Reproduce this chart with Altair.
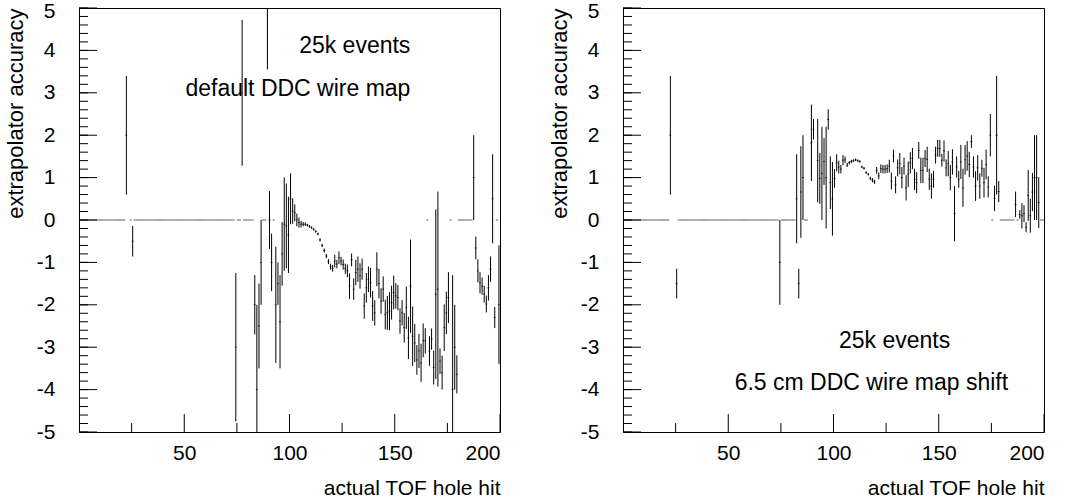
import altair as alt
import pandas as pd

FONT = "Liberation Sans"
FS = 21
NOTE_FS = 23

# ---------------- data (bin centre, value, error) ----------------
left_x = [22.5, 25.5, 74.5, 77.5, 83.5, 84.5, 85.5, 86.5, 89.5, 90.5, 91.5, 93.5, 94.5, 95.5,
          96.5, 97.5, 98.5, 99.5, 100.5, 101.5, 102.5, 103.5, 104.5, 105.5, 106.5, 107.5, 108.5,
          109.5, 110.5, 111.5, 112.5, 113.5, 114.5, 115.5, 116.5, 117.5, 118.5, 119.5, 120.5,
          121.5, 122.5, 123.5, 124.5, 125.5, 126.5, 127.5, 128.5, 129.5, 130.5, 131.5, 132.5,
          133.5, 134.5, 135.5, 136.5, 137.5, 138.5, 139.5, 140.5, 141.5, 142.5, 143.5, 144.5,
          145.5, 146.5, 147.5, 148.5, 149.5, 150.5, 151.5, 152.5, 153.5, 154.5, 155.5, 156.5,
          157.5, 158.5, 159.5, 160.5, 161.5, 162.5, 163.5, 164.5, 166.5, 167.5, 168.5, 169.5,
          170.5, 171.5, 172.5, 173.5, 174.5, 175.5, 177.5, 178.5, 179.5, 187.5, 188.5, 189.5,
          190.5, 191.5, 192.5, 193.5, 194.5, 195.5, 196.5, 197.5, 199.5]
left_val = [2.0, -0.5, -3.0, 3.0, -2.0, -4.0, -2.5, -1.0, 5.3, 0.0, -1.0, -2.0, -1.5, -2.4,
            -0.8, -0.1, -0.14, -0.35, 0.5, 0.21, 0.17, 0.0, -0.06, -0.1, -0.1, -0.1, -0.12,
            -0.15, -0.18, -0.22, -0.27, -0.33, -0.47, -0.6, -0.72, -0.85, -0.98, -1.1, -1.14,
            -0.97, -1.04, -0.89, -0.97, -1.05, -1.15, -1.2, -1.56, -0.94, -1.63, -1.24, -1.16,
            -1.32, -1.16, -2.03, -1.6, -1.4, -1.48, -2.03, -2.19, -1.16, -1.5, -1.91, -1.63,
            -2.23, -2.19, -2.15, -1.95, -1.71, -1.79, -1.83, -2.38, -2.19, -2.54, -2.07, -2.78,
            -1.56, -2.74, -2.9, -3.3, -3.09, -3.37, -2.84, -2.85, -3.09, -2.81, -3.48, -1.75,
            -1.63, -3.33, -3.6, -2.54, -2.19, -1.83, -4.0, -3.0, -3.64, 1.0, -0.66, -1.2,
            -1.48, -1.56, -1.75, -1.98, -1.6, -1.16, 0.5, -2.3, -2.0]
left_err = [1.4, 0.36, 1.75, 1.72, 0.7, 2.0, 1.0, 1.0, 1.75, 0.68, 0.68, 1.37, 0.5, 1.1,
            0.75, 1.1, 1.0, 0.9, 0.6, 0.3, 0.2, 0.15, 0.12, 0.08, 0.05, 0.04, 0.03,
            0.03, 0.03, 0.03, 0.03, 0.03, 0.04, 0.04, 0.05, 0.05, 0.06, 0.07, 0.08,
            0.15, 0.1, 0.15, 0.1, 0.12, 0.12, 0.15, 0.3, 0.15, 0.25, 0.3, 0.3,
            0.3, 0.25, 0.3, 0.35, 0.3, 0.35, 0.35, 0.3, 0.4, 0.35, 0.3, 0.3,
            0.35, 0.4, 0.45, 0.4, 0.4, 0.3, 0.3, 0.3, 0.3, 0.35, 0.5, 0.5,
            1.1, 0.7, 0.45, 0.35, 0.4, 0.45, 0.4, 0.3, 0.35, 0.25, 0.4, 2.0,
            2.3, 0.3, 0.4, 0.55, 0.5, 0.6, 2.7, 1.0, 0.45, 1.0, 0.27, 0.27,
            0.25, 0.2, 0.2, 0.2, 0.3, 0.3, 1.05, 0.25, 1.4]
# runs of empty bins drawn on the zero line: (first bin centre, last bin centre)
left_zero_runs = [(0.5, 21.5), (24.5, 24.5), (26.5, 73.5), (75.5, 76.5), (78.5, 82.5),
                  (87.5, 88.5), (92.5, 92.5), (165.5, 165.5), (176.5, 176.5),
                  (180.5, 186.5), (198.5, 198.5)]

right_x = [22.5, 25.5, 74.5, 82.5, 83.5, 84.5, 85.5, 89.5, 90.5, 92.5, 93.5, 94.5, 95.5, 96.5,
           97.5, 98.5, 99.5, 100.5, 101.5, 102.5, 103.5, 104.5, 105.5, 106.5, 107.5, 108.5,
           109.5, 110.5, 111.5, 112.5, 113.5, 114.5, 115.5, 116.5, 117.5, 118.5, 119.5, 120.5,
           121.5, 122.5, 123.5, 124.5, 125.5, 126.5, 127.5, 128.5, 129.5, 130.5, 131.5, 132.5,
           133.5, 134.5, 135.5, 136.5, 137.5, 138.5, 139.5, 140.5, 141.5, 142.5, 143.5, 144.5,
           145.5, 146.5, 147.5, 148.5, 149.5, 150.5, 151.5, 152.5, 153.5, 154.5, 155.5, 156.5,
           157.5, 158.5, 159.5, 160.5, 161.5, 162.5, 163.5, 164.5, 165.5, 166.5, 167.5, 168.5,
           169.5, 170.5, 171.5, 172.5, 173.5, 174.5, 176.5, 177.5, 178.5, 186.5, 188.5, 189.5,
           190.5, 191.5, 192.5, 193.5, 194.5, 195.5, 196.5, 197.5]
right_val = [2.0, -1.5, -1.0, 0.5, -1.5, 0.66, 1.0, 1.82, 2.14, 1.4, 0.98, 1.1, 1.38, 1.0,
             2.37, 0.88, 0.5, 0.98, 1.35, 1.25, 1.2, 1.41, 1.42, 1.3, 1.35, 1.38,
             1.4, 1.42, 1.4, 1.38, 1.25, 1.22, 1.12, 1.08, 0.98, 0.94, 0.9, 1.17,
             1.04, 1.21, 1.2, 1.2, 1.21, 1.27, 0.92, 1.51, 0.83, 1.23, 1.33, 1.0,
             1.27, 0.76, 1.08, 1.35, 1.45, 0.96, 0.88, 1.64, 1.17, 1.17, 1.45, 1.43,
             0.96, 0.8, 0.96, 1.53, 1.69, 1.69, 1.41, 1.63, 1.23, 1.33, 1.0, 1.37,
             0.15, 1.25, 0.96, 1.37, 0.76, 1.42, 1.51, 1.31, 1.85, 1.25, 0.8, 1.23,
             0.8, 1.22, 0.88, 1.31, 0.78, 2.0, 0.51, 2.0, 0.67, 0.37, 0.13, 0.1,
             0.15, -0.17, 0.58, 0.1, 0.66, 1.0, 1.0, 0.41]
right_err = [1.4, 0.35, 1.0, 1.05, 0.35, 1.08, 1.0, 0.9, 0.24, 0.98, 0.6, 1.1, 0.55, 1.2,
             0.24, 0.62, 0.87, 0.22, 0.2, 0.15, 0.1, 0.12, 0.08, 0.05, 0.04, 0.04,
             0.03, 0.03, 0.03, 0.03, 0.03, 0.03, 0.03, 0.03, 0.04, 0.05, 0.05, 0.08,
             0.08, 0.1, 0.1, 0.1, 0.1, 0.15, 0.2, 0.15, 0.2, 0.2, 0.25, 0.25,
             0.2, 0.3, 0.3, 0.25, 0.25, 0.25, 0.25, 0.2, 0.3, 0.3, 0.2, 0.3,
             0.25, 0.3, 0.2, 0.2, 0.2, 0.2, 0.15, 0.25, 0.2, 0.3, 0.3, 0.3,
             0.65, 0.25, 0.2, 0.4, 0.45, 0.35, 0.35, 0.3, 0.15, 0.25, 0.35, 0.3,
             0.3, 0.2, 0.35, 0.35, 0.25, 0.5, 0.3, 1.4, 0.25, 0.3, 0.1, 0.3,
             0.2, 0.12, 0.6, 0.4, 0.45, 1.0, 1.0, 0.6]
right_zero_runs = [(0.5, 21.5), (26.5, 73.5), (75.5, 81.5), (86.5, 87.5), (175.5, 175.5),
                   (179.5, 185.5), (187.5, 187.5), (198.5, 199.5)]

# axis ticks
x_tick_values = [50, 100, 150, 200]
x_minor_values = [25, 75, 125, 175]
y_tick_values = [-5, -4, -3, -2, -1, 0, 1, 2, 3, 4, 5]

left_notes_x = [131, 104]
left_notes_y = [4.1, 3.1]
left_notes_t = ["25k events", "default DDC wire map"]
right_notes_x = [129, 118]
right_notes_y = [-2.85, -3.84]
right_notes_t = ["25k events", "6.5 cm DDC wire map shift"]

W, H = 421, 424
XS = alt.Scale(domain=[0, 200], nice=False, zero=False)
YS = alt.Scale(domain=[-5, 5], nice=False, zero=False)
HYPHEN_LABEL = "datum.value < 0 ? '-' + abs(datum.value) : '' + datum.value"


def expand(runs):
    out = []
    for a, b in runs:
        c = a
        while c <= b + 1e-9:
            out.append(c)
            c += 1.0
    return out


def panel(xs, vals, errs, zero_runs, nx, ny, nt):
    zeros = expand(zero_runs)
    df = pd.DataFrame({"c": list(xs) + zeros,
                       "v": list(vals) + [0.0] * len(zeros),
                       "e": list(errs) + [0.0] * len(zeros)})
    df["x1"] = df["c"] - 0.5
    df["x2"] = df["c"] + 0.5
    df["lo"] = df["v"] - df["e"]
    df["hi"] = df["v"] + df["e"]
    base = alt.Chart(df)
    xaxis = alt.Axis(values=x_tick_values, labelExpr=HYPHEN_LABEL, ticks=False, domain=False,
                     grid=False, labelFont=FONT, labelFontSize=FS, labelColor="black",
                     labelPadding=10, title="actual TOF hole hit", titleFont=FONT,
                     titleFontSize=FS, titleFontWeight="normal", titleColor="black",
                     titleAnchor="end", titlePadding=14)
    yaxis = alt.Axis(values=y_tick_values, labelExpr=HYPHEN_LABEL, ticks=False, domain=False,
                     grid=False, labelFont=FONT, labelFontSize=FS, labelColor="black",
                     labelPadding=24,
                     labelOffset={"condition": {"test": "datum.value == 5", "value": 3}, "value": 0},
                     title="extrapolator accuracy", titleFont=FONT,
                     titleFontSize=22, titleFontWeight="normal", titleColor="black",
                     titleAnchor="end", titlePadding=9)
    hl = base.mark_rule(color="#555", strokeWidth=1, strokeDash=[2, 1], clip=True).encode(
        x=alt.X("x1:Q", scale=XS, axis=xaxis), x2="x2:Q",
        y=alt.Y("v:Q", scale=YS, axis=yaxis))
    vl = base.transform_filter("datum.e > 0").mark_rule(color="black", strokeWidth=1, clip=True).encode(
        x=alt.X("c:Q", scale=XS), y=alt.Y("lo:Q", scale=YS), y2="hi:Q")
    ymaj = alt.Chart(pd.DataFrame({"t": y_tick_values})).mark_rule(color="black").encode(
        y=alt.Y("t:Q", scale=YS), x=alt.value(0), x2=alt.value(18))
    yminor_vals = [round(-5 + 0.2 * i, 2) for i in range(51)]
    ymin = alt.Chart(pd.DataFrame({"t": yminor_vals})).mark_rule(color="black").encode(
        y=alt.Y("t:Q", scale=YS), x=alt.value(0), x2=alt.value(9))
    xmaj = alt.Chart(pd.DataFrame({"t": x_tick_values})).mark_rule(color="black").encode(
        x=alt.X("t:Q", scale=XS), y=alt.value(H), y2=alt.value(H - 18))
    xmin = alt.Chart(pd.DataFrame({"t": x_minor_values})).mark_rule(color="black").encode(
        x=alt.X("t:Q", scale=XS), y=alt.value(H), y2=alt.value(H - 9))
    notes = alt.Chart(pd.DataFrame({"x": nx, "y": ny, "t": nt})).mark_text(
        font=FONT, fontSize=NOTE_FS, color="black", align="center", baseline="middle").encode(
        x=alt.X("x:Q", scale=XS), y=alt.Y("y:Q", scale=YS), text="t:N")
    return alt.layer(hl, vl, ymin, ymaj, xmin, xmaj, notes).properties(width=W, height=H)


left = panel(left_x, left_val, left_err, left_zero_runs, left_notes_x, left_notes_y, left_notes_t)
right = panel(right_x, right_val, right_err, right_zero_runs, right_notes_x, right_notes_y, right_notes_t)

chart = alt.hconcat(left, right, spacing=123, bounds="flush").properties(
    padding={"left": 3, "top": -1, "right": 5, "bottom": 5},
    background="white",
).configure_view(stroke="black", strokeWidth=1)

chart.save("out.html", embed_options={"renderer": "svg", "actions": False})
